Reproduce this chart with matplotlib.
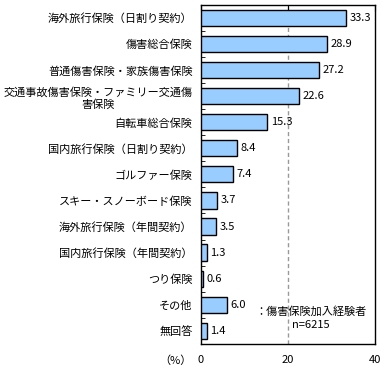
import matplotlib
matplotlib.use("Agg")
import matplotlib.pyplot as plt
import numpy as np

plt.rcParams['font.family'] = ['Noto Sans CJK JP', 'DejaVu Sans']

labels = ["海外旅行保険（日割り契約）", "傷害総合保険", "普通傷害保険・家族傷害保険",
          "交通事故傷害保険・ファミリー交通傷\n害保険", "自転車総合保険",
          "国内旅行保険（日割り契約）", "ゴルファー保険", "スキー・スノーボード保険",
          "海外旅行保険（年間契約）", "国内旅行保険（年間契約）", "つり保険", "その他", "無回答"]
values = [33.3, 28.9, 27.2, 22.6, 15.3, 8.4, 7.4, 3.7, 3.5, 1.3, 0.6, 6.0, 1.4]

fig = plt.figure(figsize=(3.87, 3.77), dpi=100)
ax = fig.add_axes([0.519, 0.088, 0.450, 0.899])

y = np.arange(len(values))
ax.barh(y, values, height=0.62, color="#99CCFF", edgecolor="black", linewidth=1, zorder=3)
for yi, v in zip(y, values):
    ax.text(v + 0.8, yi, f"{v:.1f}", va="center", ha="left", fontsize=8)

ax.axvline(20, color="#999999", linestyle=(0, (3, 2)), linewidth=1, zorder=1)

ax.set_xlim(0, 40)
ax.set_ylim(len(values) - 0.5, -0.5)
ax.set_xticks([0, 20, 40])
ax.set_xticklabels(["0", "20", "40"], fontsize=8)
ax.tick_params(axis="x", direction="in", top=True, bottom=False, length=4, pad=8)
ax.set_yticks(y)
ax.set_yticklabels(labels, fontsize=8, multialignment="center")
ax.tick_params(axis="y", length=0, pad=6)
ax.set_yticks(np.arange(-0.5, len(values) - 0.5, 1)[1:], minor=True)
ax.tick_params(axis="y", which="minor", direction="in", length=3, left=True)

for s in ax.spines.values():
    s.set_linewidth(1)

ax.text(-0.05, -0.05, "（%）", transform=ax.transAxes, ha="right", va="center", fontsize=8)
ax.text(25.3, 11.27, "：傷害保険加入経験者", ha="center", va="center", fontsize=8)
ax.text(25.3, 11.77, "n=6215", ha="center", va="center", fontsize=8)

fig.savefig("out.png", dpi=100)
